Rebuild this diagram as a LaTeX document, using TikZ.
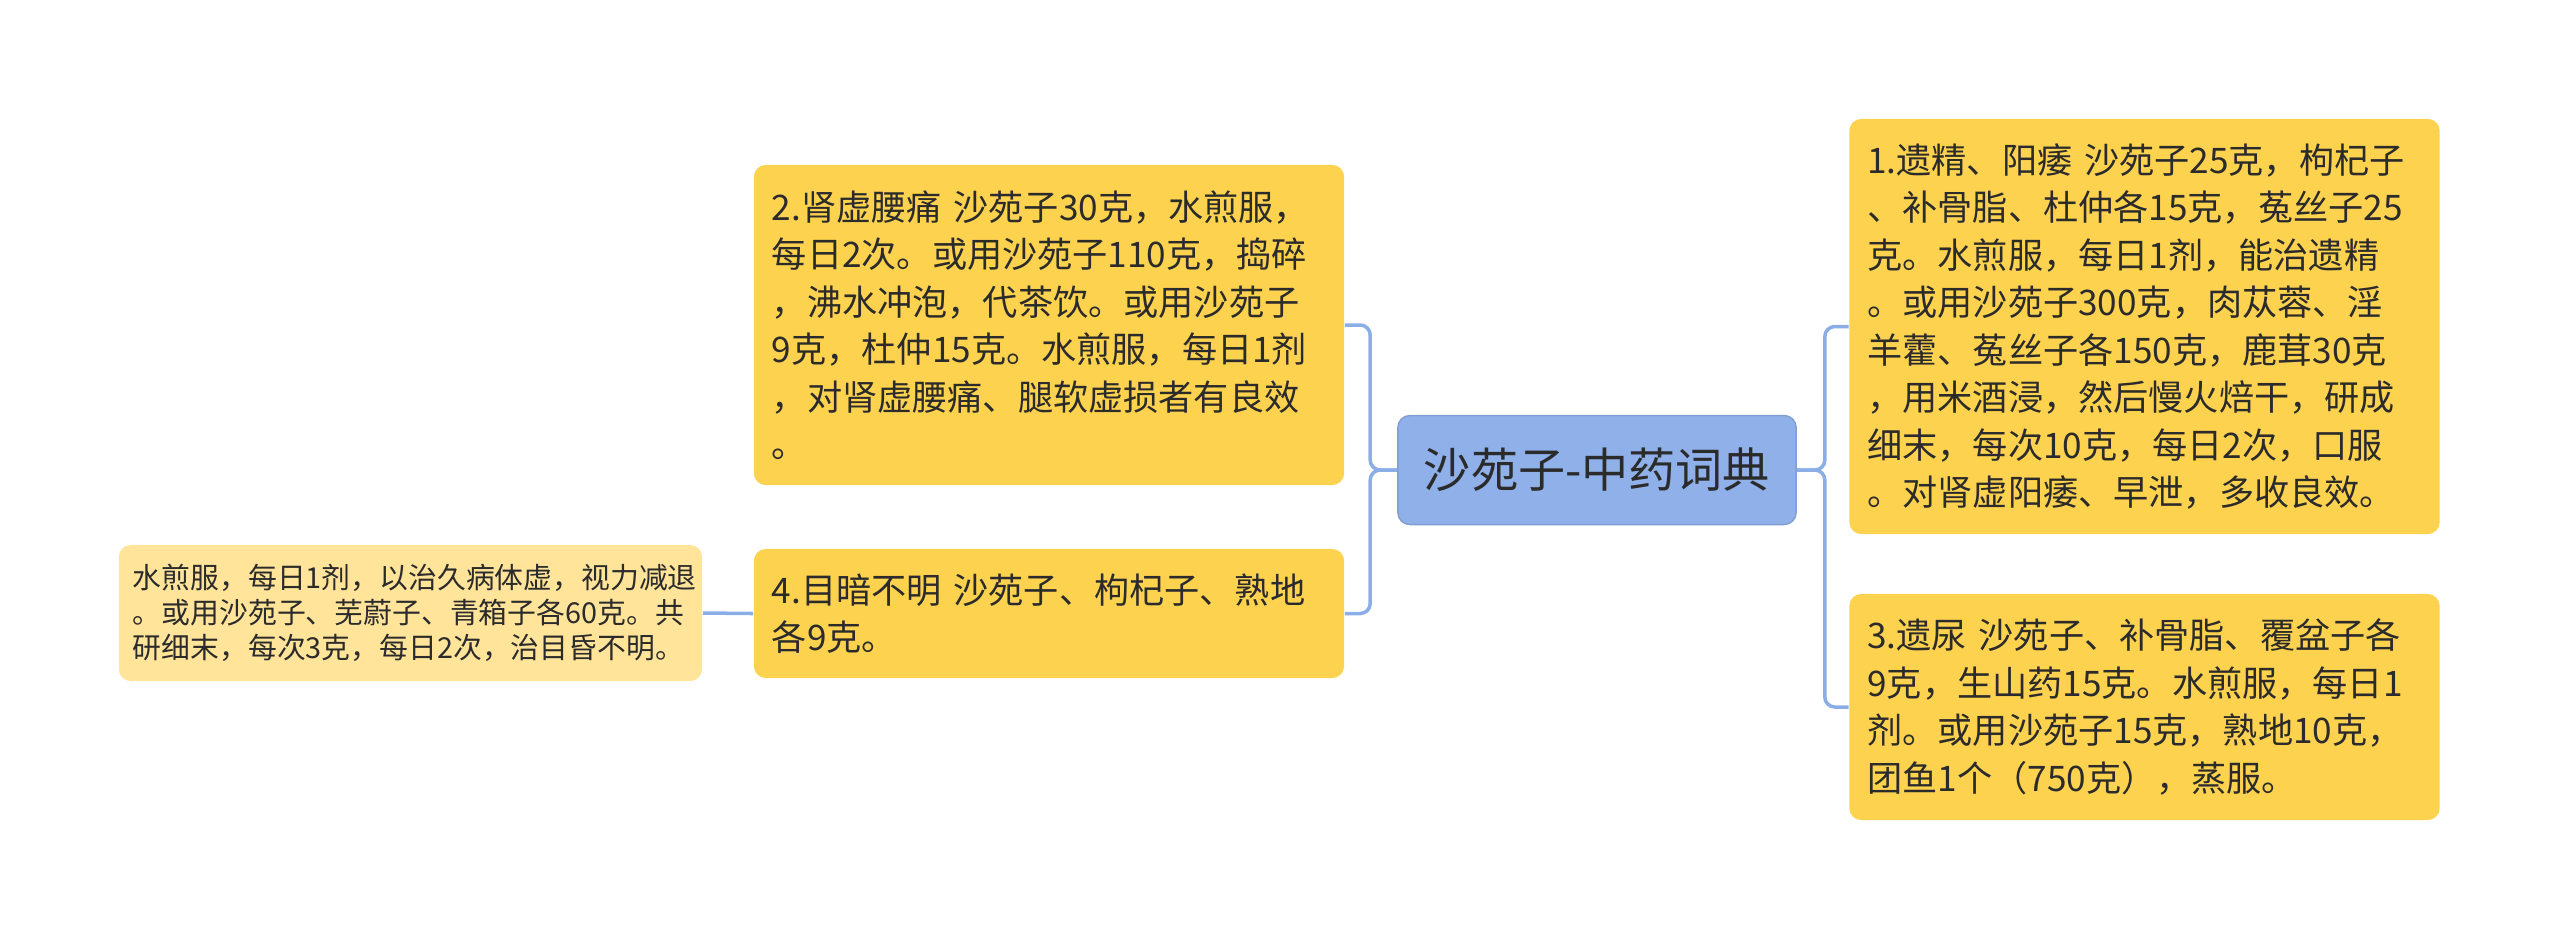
\documentclass[tikz,border=0pt]{standalone}
\usepackage{fontspec}
\setmainfont{Noto Sans CJK SC}
\definecolor{rootblue}{HTML}{8FB0E9}
\definecolor{topicyel}{HTML}{FDD24F}
\definecolor{leafyel}{HTML}{FFE49A}
\definecolor{linkblue}{HTML}{8CAEE6}
\definecolor{inkgray}{HTML}{2B2B2B}

\begin{document}
\begin{tikzpicture}[x=0.01cm, y=-0.01cm,
    rootbox/.style={rectangle, rounded corners=0.12cm, fill=rootblue, draw=rootblue!90!black, line width=0.4pt,
        minimum width=3.98cm, minimum height=1.09cm, text=inkgray, font=\fontsize{13.4}{16}\selectfont},
    topicbox/.style={rectangle, rounded corners=0.12cm, fill=topicyel, text=inkgray, align=left,
        inner xsep=0.18cm, text width=5.54cm, font=\fontsize{10}{13.5}\selectfont},
    leafbox/.style={rectangle, rounded corners=0.12cm, fill=leafyel, text=inkgray, align=left,
        inner xsep=0.14cm, text width=5.55cm, font=\fontsize{8.2}{10}\selectfont},
    link/.style={draw=linkblue, line width=1pt, rounded corners=0.1cm}]
    \useasboundingbox (0,0) rectangle (2560,941);

    \node at (1597, 470) [rootbox] (root) {沙苑子-中药词典};

    \node at (1049, 325) [topicbox, minimum height=3.2cm] (n2) {2.肾虚腰痛 沙苑子30克，水煎服，\\每日2次。或用沙苑子110克，捣碎\\，沸水冲泡，代茶饮。或用沙苑子\\9克，杜仲15克。水煎服，每日1剂\\，对肾虚腰痛、腿软虚损者有良效\\。};
    \node at (1049, 613.5) [topicbox, minimum height=1.29cm] (n4) {4.目暗不明 沙苑子、枸杞子、熟地\\各9克。};
    \node at (410.5, 613) [leafbox, minimum height=1.36cm] (l4) {水煎服，每日1剂，以治久病体虚，视力减退\\。或用沙苑子、芜蔚子、青箱子各60克。共\\研细末，每次3克，每日2次，治目昏不明。};

    \node at (2144.5, 326.5) [topicbox, minimum height=4.15cm] (n1) {1.遗精、阳痿 沙苑子25克，枸杞子\\、补骨脂、杜仲各15克，菟丝子25\\克。水煎服，每日1剂，能治遗精\\。或用沙苑子300克，肉苁蓉、淫\\羊藿、菟丝子各150克，鹿茸30克\\，用米酒浸，然后慢火焙干，研成\\细末，每次10克，每日2次，口服\\。对肾虚阳痿、早泄，多收良效。};
    \node at (2144.5, 707) [topicbox, minimum height=2.26cm] (n3) {3.遗尿 沙苑子、补骨脂、覆盆子各\\9克，生山药15克。水煎服，每日1\\剂。或用沙苑子15克，熟地10克，\\团鱼1个（750克），蒸服。};

    % left branch
    \draw[link] (root.west) -- ++(-27,0) |- (n2.east);
    \draw[link] (root.west) -- ++(-27,0) |- (n4.east);
    \draw[link] (n4.west) -- (l4.east);
    % right branch
    \draw[link] (root.east) -- ++(28,0) |- (n1.west);
    \draw[link] (root.east) -- ++(28,0) |- (n3.west);
\end{tikzpicture}
\end{document}
